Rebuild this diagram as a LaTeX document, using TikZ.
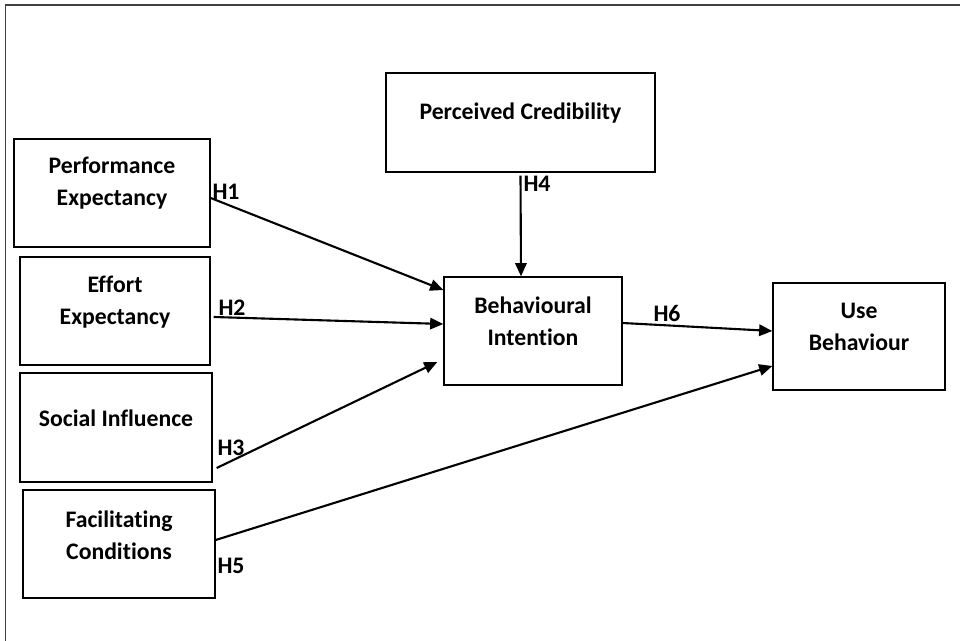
\documentclass[tikz,border=0pt]{standalone}
\usepackage{fontspec}
\setmainfont{Carlito}[Ligatures=NoCommon]
\usetikzlibrary{arrows.meta}
\tikzset{
  box/.style={draw, line width=0.8pt, fill=white},
  txt/.style={align=center, font=\fontsize{13.5}{18.2}\selectfont\bfseries},
  hyp/.style={font=\fontsize{13.5}{15}\selectfont\bfseries, inner sep=0pt},
  arr/.style={line width=1.2pt, -{Triangle[length=7.5pt,width=6.5pt]}}
}
\begin{document}
\begin{tikzpicture}[x=0.02cm,y=-0.02cm]
\useasboundingbox (0,0) rectangle (960,641);
\draw[line width=0.9pt, black!75] (960,5) -- (5.5,5) -- (5.5,641);

 \node (pe) at (112,193) [box, minimum width=3.92cm, minimum height=2.16cm,
   label={[txt,yshift=0.19cm]center:Performance\\Expectancy}]{};
 \node (ee) at (115,311) [box, minimum width=3.8cm, minimum height=2.16cm,
   label={[txt,yshift=0.17cm]center:Effort\\Expectancy}]{};
 \node (si) at (116,427.5) [box, minimum width=3.84cm, minimum height=2.18cm,
   label={[txt,yshift=0.19cm]center:Social Influence}]{};
 \node (fc) at (119,544) [box, minimum width=3.84cm, minimum height=2.16cm,
   label={[txt,yshift=0.18cm]center:Facilitating\\Conditions}]{};
 \node (pc) at (520.5,122.5) [box, minimum width=5.38cm, minimum height=1.98cm,
   label={[txt,yshift=0.19cm]center:Perceived Credibility}]{};
 \node (bi) at (533,331) [box, minimum width=3.56cm, minimum height=2.16cm,
   label={[txt,yshift=0.19cm]center:Behavioural\\Intention}]{};
 \node (ub) at (859,336.5) [box, minimum width=3.44cm, minimum height=2.14cm,
   label={[txt,yshift=0.19cm]center:Use\\Behaviour}]{};

\draw[arr] ([yshift=-0.1cm]pe.east) -- ([yshift=0.82cm]bi.west);
\draw[arr] ([xshift=0.06cm,yshift=-0.12cm]ee.east) -- ([yshift=0.14cm]bi.west);
\draw[arr] ([xshift=0.08cm,yshift=-0.81cm]si.east) -- ([xshift=-0.12cm,yshift=-0.62cm]bi.west);
\draw[arr] ([yshift=-0.06cm]pc.south) -- ([xshift=-0.24cm]bi.north);
\draw[arr] ([yshift=0.08cm]fc.east) -- ([yshift=-0.59cm]ub.west);
\draw[arr] ([yshift=0.16cm]bi.east) -- ([yshift=0.11cm]ub.west);

\node (h1) at (226,192) [hyp]{H1};
\node (h2) at (232,308) [hyp]{H2};
\node (h3) at (231,448) [hyp]{H3};
\node (h4) at (537,184) [hyp]{H4};
\node (h5) at (231,566) [hyp]{H5};
\node (h6) at (667,313) [hyp]{H6};

\end{tikzpicture}
\end{document}
